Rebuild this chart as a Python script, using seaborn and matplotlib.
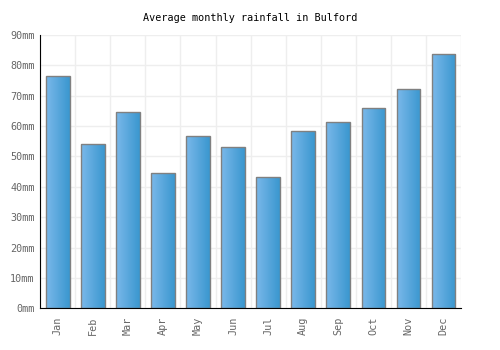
import numpy as np
import pandas as pd
import seaborn as sns
import matplotlib.pyplot as plt
from matplotlib.colors import LinearSegmentedColormap

# -------------------------------
# Data
# -------------------------------
months = ['Jan', 'Feb', 'Mar', 'Apr', 'May', 'Jun',
          'Jul', 'Aug', 'Sep', 'Oct', 'Nov', 'Dec']
rainfall_mm = [76.4, 54.0, 64.5, 44.4, 56.6, 53.0,
               43.1, 58.3, 61.2, 65.9, 72.1, 83.6]
y_ticks = [0, 10, 20, 30, 40, 50, 60, 70, 80, 90]

df = pd.DataFrame({'month': months, 'rain': rainfall_mm})

# -------------------------------
# Style
# -------------------------------
sns.set_style('white')
plt.rcParams['font.family'] = ['DejaVu Sans Mono']

fig = plt.figure(figsize=(5, 3.5), dpi=100)
ax = fig.add_axes([0.0806, 0.119, 0.841, 0.781])

sns.barplot(data=df, x='month', y='rain', ax=ax, width=0.667,
            color='#55a6dd', edgecolor='#808080', linewidth=1, zorder=3)

# gradient fill inside each bar
cmap = LinearSegmentedColormap.from_list('bar', ['#7ab8ea', '#3a97cf'])
grad = np.linspace(0, 1, 64).reshape(1, -1)
for p in ax.patches:
    x0, y0 = p.get_x(), p.get_y()
    w, h = p.get_width(), p.get_height()
    im = ax.imshow(grad, cmap=cmap, aspect='auto', zorder=3.5,
                   extent=(x0, x0 + w, y0, y0 + h))
    im.set_clip_path(p)
    p.set_facecolor('none')
    p.set_zorder(4)

# -------------------------------
# Axes, grid and labels
# -------------------------------
ax.set_xlim(-0.5, len(months) - 0.5)
ax.set_ylim(0, 90)
ax.set_yticks(y_ticks)
ax.set_yticklabels([f'{v}mm' for v in y_ticks])
ax.set_xlabel('')
ax.set_ylabel('')

for v in y_ticks:
    ax.axhline(v, color='#eeeeee', linewidth=1, zorder=1)
for i in range(len(months) + 1):
    ax.axvline(i - 0.5, color='#eeeeee', linewidth=1, zorder=1)

ax.tick_params(axis='x', labelrotation=90, labelsize=7.3, colors='#666666',
               length=0, pad=6)
ax.tick_params(axis='y', labelsize=7.3, colors='#666666', length=0, pad=4)

for side in ['top', 'right']:
    ax.spines[side].set_visible(False)
ax.spines['left'].set_color('black')
ax.spines['bottom'].set_color('black')
ax.spines['left'].set_zorder(5)
ax.spines['bottom'].set_zorder(5)

fig.text(0.5, 0.948, 'Average monthly rainfall in Bulford', ha='center',
         va='center', fontsize=7.3, color='black')

plt.savefig('out.png', dpi=100)
plt.close()
